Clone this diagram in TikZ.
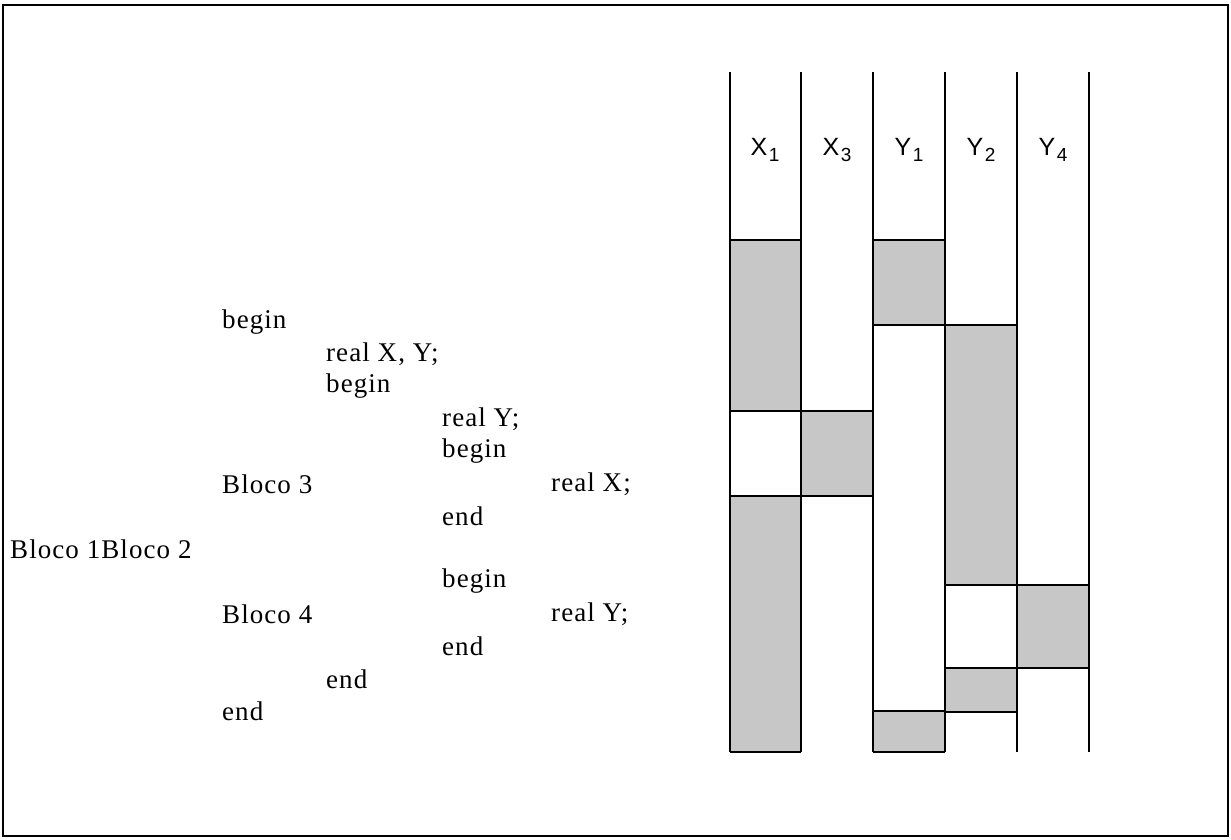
\documentclass[tikz,border=0pt]{standalone}
\usepackage{fontspec}
\setmainfont{Liberation Serif}[LetterSpace=4]
\newfontfamily\labelfont{Liberation Sans}
\newcommand{\idx}[1]{\kern1.5pt\raisebox{-0.45ex}{\fontsize{19}{21}\selectfont#1}}
\begin{document}
\begin{tikzpicture}[x=1pt,y=-1pt,
  code/.style={anchor=west,inner sep=0pt,font=\fontsize{27}{30}\selectfont},
  varname/.style={inner sep=0pt,font=\labelfont\fontsize{25}{28}\selectfont},
  rule/.style={line width=1.5pt},
  shade/.style={fill=black!22}]
\useasboundingbox (0,0) rectangle (1231,840);
\draw[line width=1.5pt] (3,5) rectangle (1228,836);

% program text
\node[code] (b1) at (222,322) {begin};
\node[code] (d1) at (326,354) {real X, Y;};
\node[code] (b2) at (326,386) {begin};
\node[code] (d2) at (442,419) {real Y;};
\node[code] (b3) at (442,451) {begin};
\node[code] (l3) at (222,484) {Bloco 3};
\node[code] (d3) at (551,484) {real X;};
\node[code] (e3) at (442,516) {end};
\node[code] (l12) at (10,549) {Bloco 1Bloco 2};
\node[code] (b4) at (442,581) {begin};
\node[code] (l4) at (222,614) {Bloco 4};
\node[code] (d4) at (551,614) {real Y;};
\node[code] (e4) at (442,646) {end};
\node[code] (e2) at (326,679) {end};
\node[code] (e1) at (222,711) {end};

% lifetime bars
\fill[shade] (730,240) rectangle (801,411);
\fill[shade] (730,496) rectangle (801,752);
\fill[shade] (801,411) rectangle (873,496);
\fill[shade] (873,240) rectangle (945,325);
\fill[shade] (873,711) rectangle (945,752);
\fill[shade] (945,325) rectangle (1017,585);
\fill[shade] (945,668) rectangle (1017,712);
\fill[shade] (1017,585) rectangle (1089,668);

% horizontal edges of the bars
\foreach \xa/\xb/\yy in {730/801/240, 730/873/411, 730/873/496, 730/801/752,
    873/945/240, 873/1017/325, 873/945/711, 873/945/752,
    945/1089/585, 945/1089/668, 945/1017/712}
  \draw[rule] (\xa,\yy) -- (\xb,\yy);

% column rules
\foreach \xx in {730,801,873,945,1017,1089}
  \draw[rule] (\xx,72) -- (\xx,752);

% column headings
\node[varname] (hx1) at (765,150) {X\idx{1}};
\node[varname] (hx3) at (837,150) {X\idx{3}};
\node[varname] (hy1) at (909,150) {Y\idx{1}};
\node[varname] (hy2) at (981,150) {Y\idx{2}};
\node[varname] (hy4) at (1053,150) {Y\idx{4}};
\end{tikzpicture}
\end{document}
